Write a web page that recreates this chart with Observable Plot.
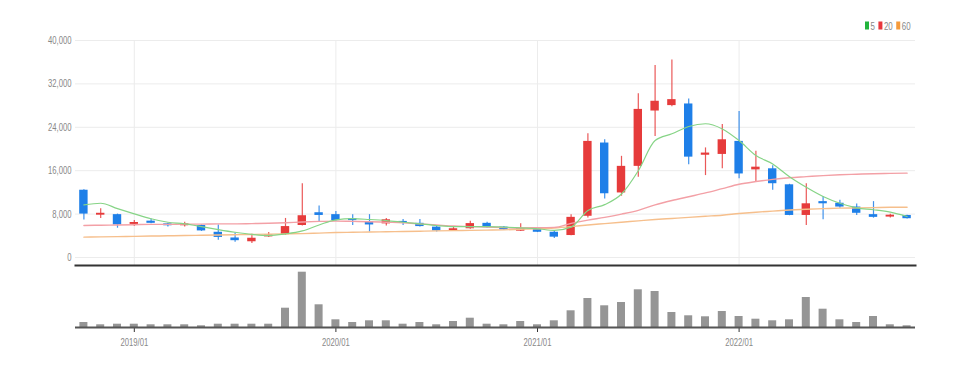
<!DOCTYPE html>
<html><head><meta charset="utf-8">
<script src="https://cdn.jsdelivr.net/npm/d3@7"></script>
<script src="https://cdn.jsdelivr.net/npm/@observablehq/plot@0.6"></script>
<style>
body{margin:0;background:#fff;width:962px;height:368px;overflow:hidden;position:relative;font-family:"Liberation Sans",Arial,sans-serif}
#legend{position:absolute;top:0;left:0;width:962px;height:40px}
#legend svg{position:absolute;left:0;top:0}
svg{display:block}
g[aria-label="x-axis tick"]{stroke:#333}
</style></head><body>
<div id="legend"></div>
<div id="chart"></div>
<script>
const months = ["2018/10","2018/11","2018/12","2019/01","2019/02","2019/03","2019/04","2019/05","2019/06","2019/07","2019/08","2019/09","2019/10","2019/11","2019/12","2020/01","2020/02","2020/03","2020/04","2020/05","2020/06","2020/07","2020/08","2020/09","2020/10","2020/11","2020/12","2021/01","2021/02","2021/03","2021/04","2021/05","2021/06","2021/07","2021/08","2021/09","2021/10","2021/11","2021/12","2022/01","2022/02","2022/03","2022/04","2022/05","2022/06","2022/07","2022/08","2022/09","2022/10","2022/11"];
const open  = [12400,7800,7900,6100,6700,6200,5850,5900,4650,3600,2900,3800,4200,5900,8250,7900,7150,6600,6200,6650,6300,5600,4950,5300,6300,5600,4850,5150,4650,4050,7600,21100,11900,16800,27000,28000,28300,18850,19000,21400,16150,16350,13400,7750,10300,10000,9300,7900,7450,7750];
const high  = [12500,9000,8000,6800,7100,6300,6500,6000,6000,4500,4300,4600,7200,13600,9500,8500,7900,7900,7200,7000,7000,5700,5700,6700,6500,5700,6200,5300,4800,7900,22800,21700,18650,30200,35400,36400,29200,20200,24500,26900,19600,16900,13500,13600,11250,10550,9850,10300,7950,7800];
const low   = [6900,7200,5400,5700,6200,5600,5600,4800,3200,2800,2600,3700,4100,5800,6500,6700,5900,4700,5800,5900,5600,4700,4800,5200,5400,5000,4800,4600,3500,4000,7300,10800,11300,14800,22300,27800,17100,15100,16350,14500,14000,12400,7700,5900,6950,9100,7750,7250,7300,7100];
const close = [8000,8150,6000,6450,6300,5850,6200,4900,3700,3100,3550,4150,5700,7700,7750,6800,6800,6000,6950,6300,5700,4900,5300,6250,5500,5100,5300,4650,3750,7400,21400,11750,16800,27300,28800,29100,18500,19250,21700,15400,16650,13600,7750,9900,9900,9300,8150,7400,7800,7150];
const ma5   = [9700,10000,9000,8050,7150,6500,6200,5700,5150,4650,4250,4050,4350,4900,6000,6950,7150,7000,6800,6500,6200,5900,5700,5700,5700,5600,5450,5300,5000,5600,8650,9750,11700,16000,21550,22800,24150,24650,23700,21550,18800,17250,14900,12950,11250,10000,9150,8800,8350,7550];
const ma20  = [5900,5950,6000,6050,6100,6100,6150,6150,6200,6200,6250,6300,6400,6550,6650,6700,6650,6600,6500,6400,6200,6000,5800,5700,5600,5500,5450,5500,5550,6300,6900,7400,8000,8700,9700,10500,11200,11900,12700,13500,14000,14400,14700,14900,15100,15250,15350,15450,15500,15550];
const ma60  = [3750,3800,3850,3900,3950,4000,4050,4100,4150,4200,4250,4300,4350,4400,4500,4600,4650,4700,4750,4800,4850,4900,4950,5000,5050,5100,5200,5300,5450,5700,6000,6250,6500,6750,7000,7200,7400,7600,7800,8100,8350,8550,8750,8900,9000,9100,9150,9200,9250,9250];
const volume = [500,270,330,330,270,270,270,170,330,330,330,330,1930,5530,2270,770,500,670,670,330,500,270,600,930,330,270,600,270,670,1670,2900,2170,2500,3770,3600,1500,1170,1070,1600,1100,830,670,770,3000,1830,770,500,1100,270,170];
const yTicks = [0,8000,16000,24000,32000,40000];
const xTicks = ["2019/01","2020/01","2021/01","2022/01"];
const legendLabels = ["5","20","60"];
const legendColors = ["#22b43c","#e8383d","#f59a3a"];

const RED = "#e63b3b", BLUE = "#1e7fe8";
const rows = months.map((m,i)=>({m, o:open[i], h:high[i], l:low[i], c:close[i], v:volume[i], ma5:ma5[i], ma20:ma20[i], ma60:ma60[i], col: close[i] >= open[i] ? RED : BLUE}));

const style = {fontFamily:'"Liberation Sans",Arial,sans-serif', fontSize:"11px", color:"#888", background:"transparent", overflow:"visible"};

const price = Plot.plot({
  width: 962, height: 268, marginLeft: 75, marginRight: 47, marginTop: 40, marginBottom: 3,
  style,
  color: {type: "identity"},
  x: {type: "band", domain: months, padding: 0, axis: null},
  y: {domain: [-1475, 40000], ticks: yTicks, tickFormat: d3.format(","), tickSize: 0, tickPadding: 4, label: null},
  marks: [
    Plot.ruleY(yTicks, {stroke: "#ececec"}),
    Plot.ruleX(xTicks, {stroke: "#ececec"}),
    Plot.ruleX(rows, {x: "m", y1: "l", y2: "h", stroke: "col", strokeOpacity: 0.85, strokeWidth: 1.2}),
    Plot.barY(rows, {x: "m", y1: "o", y2: "c", fill: "col", insetLeft: 4.2, insetRight: 4.2}),
    Plot.lineY(rows, {x: "m", y: "ma60", stroke: "#f6bf8c", strokeWidth: 1.4, curve: "monotone-x"}),
    Plot.lineY(rows, {x: "m", y: "ma20", stroke: "#f3a0a6", strokeWidth: 1.4, curve: "monotone-x"}),
    Plot.lineY(rows, {x: "m", y: "ma5", stroke: "#86d486", strokeWidth: 1.2, curve: "monotone-x"}),
    Plot.frame({anchor: "bottom", stroke: "#333", strokeWidth: 2})
  ]
});

const vol = Plot.plot({
  width: 962, height: 100, marginLeft: 75, marginRight: 47, marginTop: 2, marginBottom: 41,
  style,
  x: {type: "band", domain: months, padding: 0, ticks: xTicks, tickSize: 5, tickPadding: 6, label: null},
  y: {domain: [0, 5700], axis: null},
  marks: [
    Plot.barY(rows, {x: "m", y: "v", fill: "#959595", insetLeft: 4.4, insetRight: 4.4}),
    Plot.ruleY([0], {stroke: "#555", strokeWidth: 2})
  ]
});

const chart = document.getElementById("chart");
chart.append(price, vol);

// condensed look for tick labels
function condense(svg, k) {
  svg.querySelectorAll("text").forEach(t => {
    const w = t.getComputedTextLength();
    if (w > 0) { t.setAttribute("textLength", (w * k).toFixed(2)); t.setAttribute("lengthAdjust", "spacingAndGlyphs"); }
  });
}
condense(price, 0.7);
condense(vol, 0.7);

// legend (top right)
const ns = "http://www.w3.org/2000/svg";
const lsvg = document.createElementNS(ns, "svg");
lsvg.setAttribute("width", 962); lsvg.setAttribute("height", 40);
document.getElementById("legend").append(lsvg);
let lx = 865;
legendLabels.forEach((lab, i) => {
  const r = document.createElementNS(ns, "rect");
  r.setAttribute("x", lx); r.setAttribute("y", 21.5); r.setAttribute("width", 4); r.setAttribute("height", 8);
  r.setAttribute("fill", legendColors[i]);
  lsvg.append(r);
  const t = document.createElementNS(ns, "text");
  t.setAttribute("x", lx + 5.5); t.setAttribute("y", 29.5);
  t.setAttribute("font-size", "11px"); t.setAttribute("fill", "#888");
  t.setAttribute("font-family", '"Liberation Sans",Arial,sans-serif');
  t.textContent = lab;
  lsvg.append(t);
  const w = t.getComputedTextLength() * 0.72;
  t.setAttribute("textLength", w.toFixed(2)); t.setAttribute("lengthAdjust", "spacingAndGlyphs");
  lx += 5.5 + w + 3.5;
});
</script>
</body></html>
